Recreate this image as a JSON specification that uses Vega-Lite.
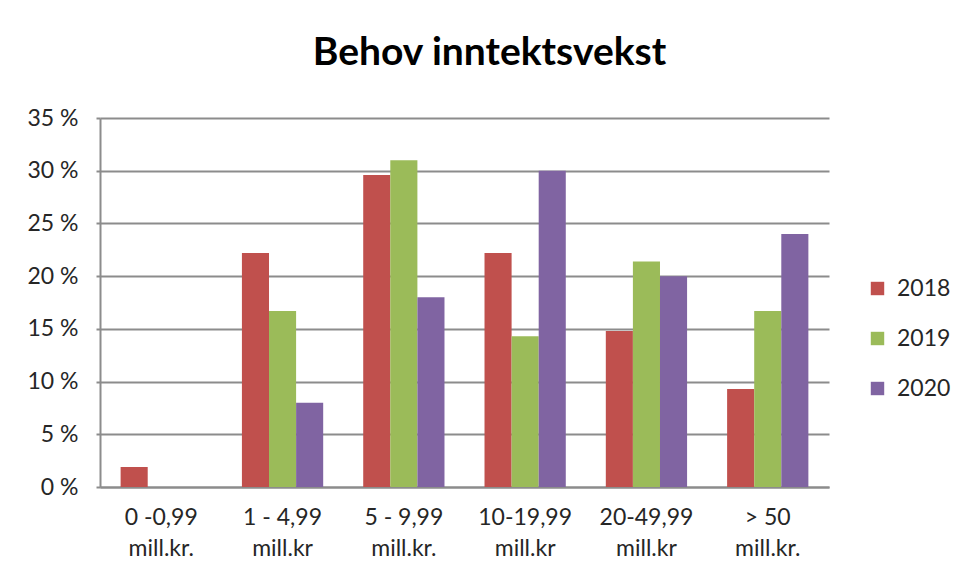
{
  "$schema": "https://vega.github.io/schema/vega-lite/v6.json",
  "width": 729,
  "height": 369,
  "autosize": {"type": "none"},
  "padding": {"left": 100, "top": 118, "right": 133, "bottom": 92},
  "background": "white",
  "title": {
    "text": "Behov inntektsvekst",
    "anchor": "middle",
    "frame": "group",
    "dx": 25,
    "offset": 34,
    "font": "Lato",
    "fontSize": 39,
    "fontWeight": "bold",
    "color": "#000000"
  },
  "data": {
    "values": [
      {"kategori": "0 -0,99|mill.kr.", "aar": "2018", "andel": 1.9},
      {"kategori": "0 -0,99|mill.kr.", "aar": "2019", "andel": 0},
      {"kategori": "0 -0,99|mill.kr.", "aar": "2020", "andel": 0},
      {"kategori": "1  - 4,99|mill.kr", "aar": "2018", "andel": 22.2},
      {"kategori": "1  - 4,99|mill.kr", "aar": "2019", "andel": 16.7},
      {"kategori": "1  - 4,99|mill.kr", "aar": "2020", "andel": 8.0},
      {"kategori": "5  - 9,99|mill.kr.", "aar": "2018", "andel": 29.6},
      {"kategori": "5  - 9,99|mill.kr.", "aar": "2019", "andel": 31.0},
      {"kategori": "5  - 9,99|mill.kr.", "aar": "2020", "andel": 18.0},
      {"kategori": "10-19,99|mill.kr", "aar": "2018", "andel": 22.2},
      {"kategori": "10-19,99|mill.kr", "aar": "2019", "andel": 14.3},
      {"kategori": "10-19,99|mill.kr", "aar": "2020", "andel": 30.0},
      {"kategori": "20-49,99|mill.kr", "aar": "2018", "andel": 14.8},
      {"kategori": "20-49,99|mill.kr", "aar": "2019", "andel": 21.4},
      {"kategori": "20-49,99|mill.kr", "aar": "2020", "andel": 20.0},
      {"kategori": "> 50|mill.kr.", "aar": "2018", "andel": 9.3},
      {"kategori": "> 50|mill.kr.", "aar": "2019", "andel": 16.7},
      {"kategori": "> 50|mill.kr.", "aar": "2020", "andel": 24.0}
    ]
  },
  "mark": {"type": "bar"},
  "encoding": {
    "x": {
      "field": "kategori",
      "type": "nominal",
      "sort": ["0 -0,99|mill.kr.", "1  - 4,99|mill.kr", "5  - 9,99|mill.kr.", "10-19,99|mill.kr", "20-49,99|mill.kr", "> 50|mill.kr."],
      "scale": {"paddingInner": 0.33, "paddingOuter": 0.17},
      "axis": {
        "title": null,
        "labelAngle": 0,
        "labelExpr": "split(datum.label, '|')",
        "labelFont": "Lato",
        "labelFontSize": 23,
        "labelLineHeight": 31,
        "labelColor": "#262626",
        "labelPadding": 19,
        "ticks": false,
        "domainColor": "#8c8c8c",
        "domainWidth": 2,
        "grid": false
      }
    },
    "xOffset": {
      "field": "aar",
      "type": "nominal",
      "scale": {"paddingInner": 0, "paddingOuter": 0}
    },
    "y": {
      "field": "andel",
      "type": "quantitative",
      "scale": {"domain": [0, 35], "nice": false},
      "axis": {
        "title": null,
        "values": [0, 5, 10, 15, 20, 25, 30, 35],
        "labelExpr": "datum.value + ' %'",
        "labelFont": "Lato",
        "labelFontSize": 23,
        "labelColor": "#262626",
        "labelPadding": 18,
        "tickSize": 4,
        "tickColor": "#8c8c8c",
        "tickWidth": 2,
        "domainColor": "#8c8c8c",
        "domainWidth": 2,
        "gridColor": "#8c8c8c",
        "gridWidth": 2,
        "gridOpacity": 1
      }
    },
    "color": {
      "field": "aar",
      "type": "nominal",
      "scale": {"domain": ["2018", "2019", "2020"], "range": ["#C0504D", "#9BBB59", "#8064A2"]},
      "legend": {
        "title": null,
        "orient": "none",
        "legendX": 766,
        "legendY": 159,
        "symbolType": "square",
        "symbolSize": 180,
        "symbolStrokeWidth": 0,
        "labelFont": "Lato",
        "labelFontSize": 23,
        "labelColor": "#262626",
        "rowPadding": 26,
        "labelOffset": 8
      }
    }
  },
  "config": {
    "view": {"stroke": null}
  }
}
